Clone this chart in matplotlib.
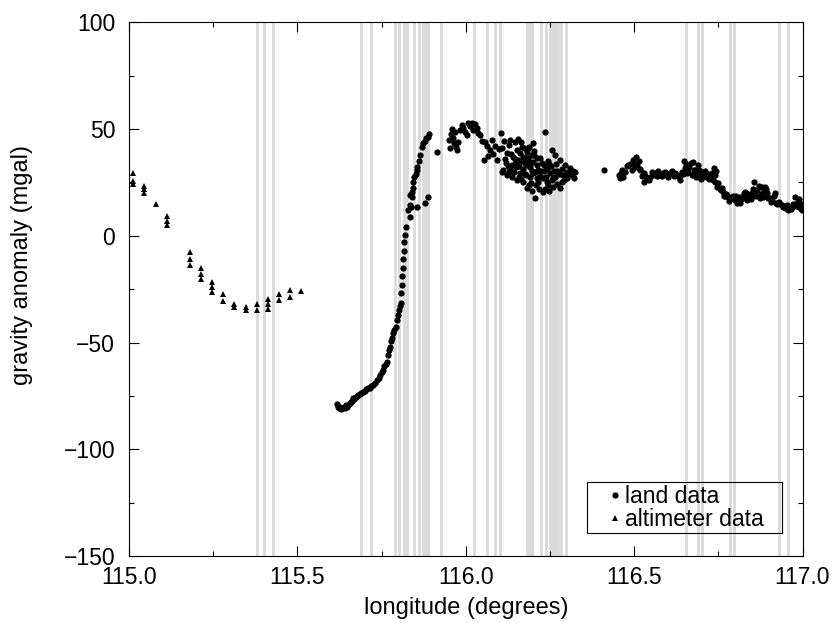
import numpy as np
import matplotlib
matplotlib.use('Agg')
import matplotlib.pyplot as plt
import matplotlib.transforms as mtransforms
from matplotlib.patches import Rectangle
from matplotlib.ticker import MultipleLocator, FormatStrFormatter

plt.rcParams['font.family'] = ['Liberation Sans', 'DejaVu Sans']

# altimeter points (degrees, mgal)
alt_lon = [115.013, 115.013, 115.013,
           115.046, 115.046, 115.046,
           115.080,
           115.113, 115.113, 115.113,
           115.180, 115.180, 115.180,
           115.213, 115.213, 115.213,
           115.246, 115.246, 115.246,
           115.279, 115.279,
           115.313, 115.313,
           115.346, 115.346,
           115.380, 115.380,
           115.413, 115.413, 115.413,
           115.446, 115.446,
           115.479, 115.479,
           115.512]
alt_grav = [29.2, 25.6, 24.1,
            23.3, 21.7, 20.1,
            15.1,
            9.1, 6.7, 4.9,
            -7.5, -10.8, -13.7,
            -15.3, -17.9, -20.4,
            -21.5, -23.9, -26.3,
            -27.4, -30.5,
            -31.8, -33.3,
            -33.3, -34.6,
            -32.1, -34.9,
            -29.7, -32.1, -34.4,
            -27.4, -30.2,
            -25.5, -28.6,
            -25.8]

# land gravity points, west to east
land_lon = [115.617, 115.620, 115.624, 115.627, 115.630, 115.634, 115.637, 115.641,
            115.645, 115.648, 115.652, 115.655, 115.658, 115.661, 115.665, 115.669,
            115.673, 115.677, 115.681, 115.685, 115.690, 115.695, 115.700, 115.705,
            115.710, 115.716, 115.720, 115.725, 115.731, 115.736, 115.741, 115.745,
            115.750, 115.754, 115.758, 115.762, 115.765, 115.769, 115.772, 115.775,
            115.777, 115.780, 115.784, 115.787, 115.793, 115.797, 115.800, 115.802,
            115.805, 115.807, 115.808, 115.810, 115.811, 115.813, 115.814, 115.816,
            115.818, 115.820, 115.823, 115.829, 115.833, 115.834, 115.835, 115.837,
            115.840, 115.840, 115.842, 115.844, 115.847, 115.851, 115.854, 115.856,
            115.860, 115.864, 115.869, 115.874, 115.878, 115.882, 115.887, 115.892,
            115.856, 115.879, 115.887, 115.914,
            115.958, 115.955, 115.968, 115.961, 115.965, 115.971, 115.975, 115.983,
            115.988, 116.005, 116.008, 116.018, 116.028, 116.034, 116.037, 116.057,
            116.054, 116.072, 116.082, 116.094, 116.104, 116.114, 116.127, 116.122,
            116.120, 116.112, 116.127, 116.137, 116.141, 116.146, 116.152, 116.156,
            116.161, 116.166, 116.171, 116.176, 116.181, 116.186, 116.191, 116.196,
            116.201, 116.201, 116.206, 116.211, 116.221, 116.236, 116.241, 116.250,
            116.255, 116.265, 116.280, 116.295, 116.310, 116.325, 116.315, 116.300,
            116.285, 116.270, 116.260, 116.280, 116.229, 116.206, 116.181, 116.171,
            116.152, 116.137, 116.122, 116.107, 116.161, 116.191, 116.211, 116.241,
            116.245, 116.265, 116.290, 116.300,
            116.132, 116.145, 116.158, 116.168, 116.176, 116.184, 116.190, 116.197,
            116.204, 116.214, 116.220, 116.226, 116.233, 116.248, 116.258, 116.272,
            116.188, 116.196, 116.178, 116.163, 116.150, 116.216, 116.236, 116.255,
            115.950, 115.952, 115.978, 115.993, 115.998, 116.013, 116.023, 116.043,
            116.048, 116.063, 116.067, 116.077, 116.088, 116.098,
            116.109, 116.117, 116.125, 116.130, 116.135, 116.143, 116.148, 116.155,
            116.159, 116.163, 116.170, 116.174, 116.179, 116.183, 116.187, 116.193,
            116.199, 116.203, 116.208, 116.213, 116.218, 116.224, 116.228, 116.232,
            116.239, 116.243, 116.247, 116.252, 116.262, 116.268, 116.276, 116.287,
            116.293, 116.305, 116.318, 116.322,
            116.411,
            116.454, 116.458, 116.468, 116.463, 116.478, 116.488, 116.498, 116.506,
            116.513, 116.503, 116.518, 116.528, 116.528, 116.538, 116.548, 116.553,
            116.562, 116.572, 116.577, 116.587, 116.597, 116.607, 116.612, 116.622,
            116.632, 116.637, 116.642, 116.647, 116.652, 116.658, 116.664, 116.671,
            116.674, 116.681, 116.686, 116.691, 116.696, 116.701, 116.706, 116.714,
            116.721, 116.726, 116.736, 116.741, 116.741, 116.746, 116.750, 116.765,
            116.773, 116.780, 116.790, 116.800, 116.810, 116.815, 116.825, 116.835,
            116.840, 116.850, 116.857, 116.865, 116.874, 116.879, 116.889, 116.894,
            116.904, 116.919, 116.929, 116.939, 116.949, 116.958, 116.968, 116.978,
            116.983, 116.993, 116.998, 116.999,
            116.758, 116.770, 116.785, 116.795, 116.805, 116.820, 116.830, 116.845,
            116.860, 116.885, 116.910, 116.925, 116.945, 116.962, 116.988,
            116.460, 116.465, 116.472, 116.483, 116.493, 116.500, 116.509, 116.516,
            116.522, 116.533, 116.543, 116.557, 116.567, 116.582, 116.592, 116.602,
            116.617, 116.627, 116.645, 116.655, 116.661, 116.668, 116.677, 116.683,
            116.694, 116.699, 116.710, 116.718, 116.731, 116.733, 116.744, 116.754,
            116.762, 116.768, 116.777, 116.783, 116.793, 116.803, 116.813, 116.818,
            116.828, 116.838, 116.848, 116.853, 116.862, 116.870, 116.877, 116.884,
            116.892, 116.899, 116.907, 116.915, 116.922, 116.934, 116.942, 116.953,
            116.965, 116.973, 116.981, 116.990]
land_grav = [-79.0, -80.0, -80.5, -80.0, -81.0, -80.5, -80.0, -80.5,
             -79.5, -80.0, -79.0, -78.5, -78.0, -77.5, -76.0, -76.5,
             -75.5, -75.0, -74.5, -74.0, -73.5, -73.2, -72.5, -72.0,
             -71.5, -71.3, -70.5, -70.0, -68.9, -67.5, -66.5, -65.2,
             -64.0, -62.9, -61.0, -60.0, -59.0, -55.8, -53.5, -51.9,
             -49.5, -47.9, -45.5, -44.0, -42.6, -39.4, -37.0, -34.8,
             -33.0, -31.5, -27.0, -23.0, -19.0, -15.0, -11.0, -7.0,
             -3.0, 0.5, 4.0, 12.1, 14.4, 8.9, 19.1, 13.6,
             18.0, 20.7, 25.3, 22.2, 27.5, 29.0, 30.8, 32.4,
             35.0, 37.8, 41.7, 43.3, 44.5, 45.7, 46.5, 47.7,
             13.3, 15.5, 18.3, 39.4,
             49.9, 47.7, 48.8, 45.7, 43.3, 41.7, 40.2, 49.6,
             51.9, 47.2, 52.7, 53.0, 52.4, 50.4, 48.3, 44.1,
             35.5, 40.2, 38.3, 35.5, 48.3, 44.5, 42.5, 38.6,
             34.0, 30.8, 30.0, 33.2, 37.0, 44.1, 40.2, 35.5,
             38.6, 41.7, 37.0, 34.0, 39.4, 36.3, 32.4, 37.8,
             43.3, 34.7, 30.0, 33.2, 36.3, 48.8, 31.1, 29.3,
             40.2, 37.8, 35.5, 33.2, 31.6, 30.0, 28.5, 26.9,
             25.3, 24.3, 23.0, 22.2, 20.7, 17.6, 22.2, 25.3,
             26.1, 27.7, 28.5, 30.0, 29.3, 27.7, 26.9, 25.3,
             23.8, 27.7, 28.5, 30.0,
             31.5, 36.0, 32.5, 35.0, 29.0, 41.0, 34.5, 30.5,
             39.5, 31.0, 28.0, 34.0, 30.5, 33.5, 27.0, 30.5,
             24.0, 21.0, 36.5, 26.5, 32.0, 25.0, 22.0, 26.0,
             45.0, 41.0, 44.0, 50.5, 48.5, 51.5, 49.5, 47.0,
             44.5, 42.0, 37.5, 45.0, 42.0, 40.5,
             41.0, 36.0, 32.5, 45.0, 38.5, 30.0, 34.5, 45.5,
             27.5, 44.0, 31.5, 41.0, 28.5, 33.0, 41.5, 24.5,
             29.5, 38.0, 24.0, 36.5, 22.0, 30.5, 27.0, 33.0,
             27.5, 35.0, 21.0, 32.5, 30.5, 33.5, 29.0, 31.5,
             26.0, 29.0, 30.5, 27.0,
             30.8,
             28.5, 26.9, 27.4, 30.0, 32.7, 33.6, 35.5, 36.8,
             35.2, 32.4, 30.8, 29.3, 25.3, 26.5, 27.7, 30.0,
             29.3, 30.5, 28.5, 29.3, 28.5, 29.6, 30.5, 29.3,
             27.7, 26.1, 30.0, 35.2, 31.6, 29.3, 32.4, 28.5,
             34.7, 30.8, 29.3, 33.2, 27.7, 30.0, 28.5, 27.7,
             26.5, 27.7, 31.6, 28.5, 25.3, 23.0, 24.6, 20.7,
             19.6, 18.3, 17.6, 16.8, 16.0, 18.3, 19.9, 16.8,
             18.3, 19.9, 25.3, 21.5, 17.6, 23.0, 23.0, 19.9,
             17.6, 19.9, 16.0, 14.4, 12.9, 12.1, 13.6, 18.3,
             15.2, 12.9, 12.1, 15.0,
             21.5, 18.5, 17.0, 18.0, 15.5, 17.5, 20.5, 18.5,
             19.0, 21.0, 16.5, 15.0, 13.5, 13.0, 14.0,
             29.5, 31.0, 30.0, 33.0, 31.0, 33.5, 33.0, 31.5,
             28.0, 28.0, 26.0, 28.5, 28.0, 28.0, 30.0, 27.5,
             28.0, 28.5, 29.0, 33.5, 30.0, 34.0, 31.0, 27.5,
             31.0, 26.5, 30.5, 29.0, 29.5, 26.0, 30.5, 22.0,
             22.5, 18.5, 19.0, 16.5, 18.5, 18.5, 15.5, 17.0,
             17.5, 19.5, 17.0, 22.0, 18.5, 23.5, 19.5, 18.0,
             22.0, 17.5, 16.0, 18.5, 15.5, 15.0, 13.5, 14.5,
             12.5, 15.0, 14.0, 17.0]

# longitudes of the grey vertical markers
grey_lines = [115.381, 115.400, 115.427,
              115.689, 115.719, 115.790, 115.802, 115.816, 115.825, 115.847,
              115.860, 115.874, 115.881, 115.888, 115.927,
              116.025, 116.062, 116.088, 116.101,
              116.182, 116.190, 116.198, 116.223, 116.237,
              116.250, 116.258, 116.266, 116.274, 116.282, 116.299,
              116.655, 116.690, 116.703, 116.786, 116.798, 116.931, 116.958]

fig = plt.figure(figsize=(8.36, 6.23), dpi=100)
ax = fig.add_axes([129/836, 1 - 556/623, (802.5 - 129)/836, (556 - 22.3)/623])

for lon in grey_lines:
    ax.axvline(lon, color='#d9d9d9', lw=2.0, zorder=1)

ax.plot(land_lon, land_grav, 'o', color='k', ms=4.5, mew=0, label='land data', zorder=3)
ax.plot(alt_lon, alt_grav, '^', color='k', ms=5, mew=0, label='altimeter data', zorder=3)

ax.set_xlim(115.0, 117.0)
ax.set_ylim(-150, 100)
ax.xaxis.set_major_locator(MultipleLocator(0.5))
ax.xaxis.set_minor_locator(MultipleLocator(0.25))
ax.xaxis.set_major_formatter(FormatStrFormatter('%.1f'))
ax.yaxis.set_major_locator(MultipleLocator(50))
ax.yaxis.set_minor_locator(MultipleLocator(25))

ax.tick_params(which='both', direction='in', top=True, right=True, width=0.8, labelsize=16.5)
ax.tick_params(which='major', length=7.2)
ax.tick_params(which='minor', length=3.6)
ax.tick_params(axis='x', pad=7)
ax.tick_params(axis='y', pad=10)
for s in ax.spines.values():
    s.set_linewidth(0.8)

# first x label sits a bit to the right, clear of the -150
fig.canvas.draw()
first = ax.get_xticklabels()[0]
first.set_transform(first.get_transform() + mtransforms.ScaledTranslation(12/100, 0, fig.dpi_scale_trans))

ax.set_xlabel('longitude (degrees)', fontsize=17, labelpad=6)
ax.set_ylabel('gravity anomaly (mgal)', fontsize=17)
ax.yaxis.set_label_coords(-0.143, 0.545)

# legend: open box, grey lines show through
ax.add_patch(Rectangle((0.680, 0.043), 0.2895, 0.095, transform=ax.transAxes,
                       fill=False, edgecolor='k', lw=0.8, zorder=4))
leg = ax.legend(loc='center left', bbox_to_anchor=(0.711, 0.0905), borderaxespad=0,
                fontsize=16.5, frameon=False, borderpad=0,
                handlelength=0.6, handletextpad=0.15, labelspacing=0.0)
leg.set_zorder(5)

fig.savefig('out.png', dpi=100)
